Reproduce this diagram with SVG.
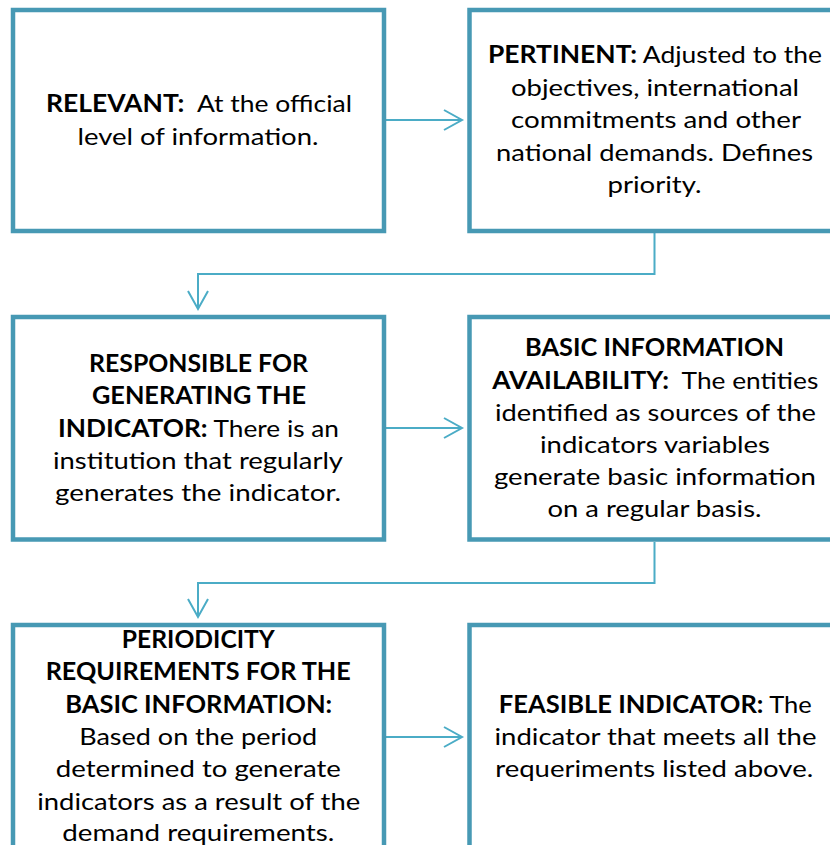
<svg xmlns="http://www.w3.org/2000/svg" width="830" height="845" viewBox="0 0 830 845">
<style>
.box{fill:#fff;stroke:#4799B4;stroke-width:4.5;}
.con{fill:none;stroke:#4BACC6;stroke-width:2;}
.head{fill:none;stroke:#4BACC6;stroke-width:2;}
text{font-family:Lato,"Open Sans","Liberation Sans",sans-serif;font-size:24px;fill:#000;text-anchor:middle;}
.b{font-weight:700;}
</style>
<rect width="830" height="845" fill="#fff"/>
<g id="connectors">
<path class="con" d="M386 120H461"/>
<path class="head" d="M444 110L462 120L444 130"/>
<path class="con" d="M654.5 233V274H198V308"/>
<path class="head" d="M188 291L198 309L208 291"/>
<path class="con" d="M386 428H461"/>
<path class="head" d="M444 418L462 428L444 438"/>
<path class="con" d="M654.5 542V583H198V616"/>
<path class="head" d="M188 599L198 617L208 599"/>
<path class="con" d="M386 737H461"/>
<path class="head" d="M444 727L462 737L444 747"/>
</g>
<g id="relevant">
<rect class="box" x="13" y="10" width="371" height="221"/>
<text x="199" y="112" textLength="306" lengthAdjust="spacingAndGlyphs"><tspan class="b">RELEVANT:</tspan>&#160; At the official</text>
<text x="198" y="145" textLength="241" lengthAdjust="spacingAndGlyphs">level of information.</text>
</g>
<g id="pertinent">
<rect class="box" x="469.5" y="10" width="380" height="221"/>
<text x="655" y="63" textLength="334" lengthAdjust="spacingAndGlyphs"><tspan class="b">PERTINENT:</tspan> Adjusted to the</text>
<text x="655" y="96" textLength="288" lengthAdjust="spacingAndGlyphs">objectives, international</text>
<text x="656" y="128" textLength="290" lengthAdjust="spacingAndGlyphs">commitments and other</text>
<text x="654.5" y="160.5" textLength="317" lengthAdjust="spacingAndGlyphs">national demands. Defines</text>
<text x="654.5" y="193" textLength="94" lengthAdjust="spacingAndGlyphs">priority.</text>
</g>
<g id="responsible">
<rect class="box" x="13" y="317" width="371" height="222.5"/>
<text class="b" x="198.5" y="371.5" textLength="219" lengthAdjust="spacingAndGlyphs">RESPONSIBLE FOR</text>
<text class="b" x="199" y="404" textLength="214" lengthAdjust="spacingAndGlyphs">GENERATING THE</text>
<text x="198.5" y="436.5" textLength="281" lengthAdjust="spacingAndGlyphs"><tspan class="b">INDICATOR:</tspan> There is an</text>
<text x="198" y="469" textLength="290" lengthAdjust="spacingAndGlyphs">institution that regularly</text>
<text x="198" y="501" textLength="286" lengthAdjust="spacingAndGlyphs">generates the indicator.</text>
</g>
<g id="availability">
<rect class="box" x="469.5" y="317" width="380" height="222.5"/>
<text class="b" x="654.5" y="356" textLength="259" lengthAdjust="spacingAndGlyphs">BASIC INFORMATION</text>
<text x="655.3" y="388.5" textLength="326" lengthAdjust="spacingAndGlyphs"><tspan class="b">AVAILABILITY:</tspan>&#160; The entities</text>
<text x="655.5" y="420.5" textLength="321" lengthAdjust="spacingAndGlyphs">identified as sources of the</text>
<text x="655" y="453" textLength="230" lengthAdjust="spacingAndGlyphs">indicators variables</text>
<text x="655" y="485" textLength="322" lengthAdjust="spacingAndGlyphs">generate basic information</text>
<text x="654.5" y="517" textLength="214" lengthAdjust="spacingAndGlyphs">on a regular basis.</text>
</g>
<g id="periodicity">
<rect class="box" x="13" y="625" width="371" height="240"/>
<text class="b" x="198.3" y="647.5" textLength="153" lengthAdjust="spacingAndGlyphs">PERIODICITY</text>
<text class="b" x="198.2" y="680" textLength="305" lengthAdjust="spacingAndGlyphs">REQUIREMENTS FOR THE</text>
<text class="b" x="198.7" y="712.5" textLength="267" lengthAdjust="spacingAndGlyphs">BASIC INFORMATION:</text>
<text x="198.2" y="744.5" textLength="238" lengthAdjust="spacingAndGlyphs">Based on the period</text>
<text x="198.3" y="777" textLength="285" lengthAdjust="spacingAndGlyphs">determined to generate</text>
<text x="198.7" y="809.5" textLength="323" lengthAdjust="spacingAndGlyphs">indicators as a result of the</text>
<text x="198.3" y="841" textLength="272" lengthAdjust="spacingAndGlyphs">demand requirements.</text>
</g>
<g id="feasible">
<rect class="box" x="469.5" y="625" width="380" height="240"/>
<text x="655.3" y="713" textLength="313" lengthAdjust="spacingAndGlyphs"><tspan class="b">FEASIBLE INDICATOR:</tspan> The</text>
<text x="655.5" y="744.5" textLength="322" lengthAdjust="spacingAndGlyphs">indicator that meets all the</text>
<text x="654.2" y="777" textLength="318" lengthAdjust="spacingAndGlyphs">requeriments listed above.</text>
</g>
</svg>
